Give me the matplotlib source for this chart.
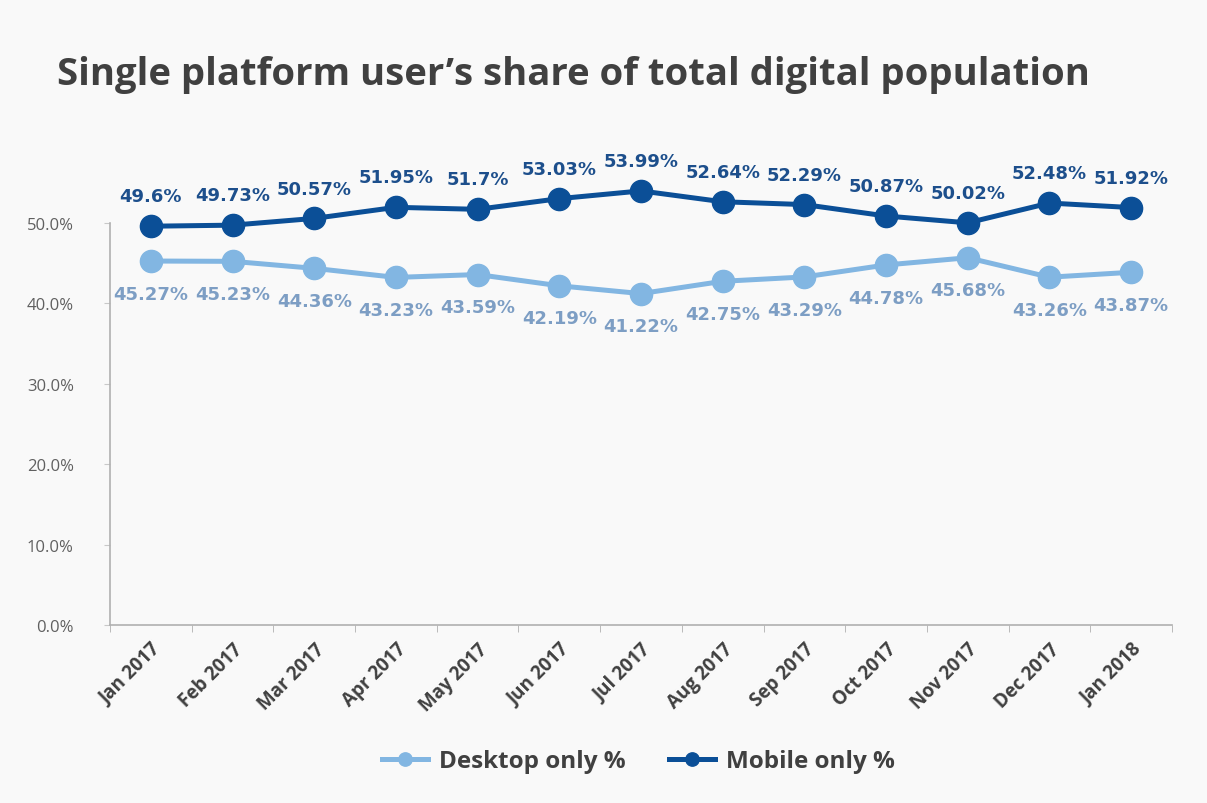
import numpy as np
import matplotlib.pyplot as plt
from matplotlib.ticker import MultipleLocator, FuncFormatter

MONTHS = ['Jan 2017', 'Feb 2017', 'Mar 2017', 'Apr 2017', 'May 2017', 'Jun 2017',
          'Jul 2017', 'Aug 2017', 'Sep 2017', 'Oct 2017', 'Nov 2017', 'Dec 2017', 'Jan 2018']
DESKTOP_ONLY = [45.27, 45.23, 44.36, 43.23, 43.59, 42.19, 41.22, 42.75, 43.29, 44.78, 45.68, 43.26, 43.87]
MOBILE_ONLY = [49.6, 49.73, 50.57, 51.95, 51.7, 53.03, 53.99, 52.64, 52.29, 50.87, 50.02, 52.48, 51.92]
MOBILE_TEXT = ['49.6%', '49.73%', '50.57%', '51.95%', '51.7%', '53.03%', '53.99%',
               '52.64%', '52.29%', '50.87%', '50.02%', '52.48%', '51.92%']

BG = '#f9f9f9'
DARK_BLUE = '#0b4f97'
LIGHT_BLUE = '#82b6e2'
TEXT_GRAY = '#404040'

plt.rcParams['font.family'] = ['Open Sans', 'DejaVu Sans']

fig = plt.figure(figsize=(12.07, 8.04), dpi=100, facecolor=BG)
ax = fig.add_axes([0.0911, 0.2214, 0.8799, 0.50])
ax.set_facecolor(BG)

x = np.arange(len(MONTHS))
ax.plot(x, DESKTOP_ONLY, '-o', color=LIGHT_BLUE, lw=3.6, ms=16, clip_on=False,
        zorder=3, label='Desktop only %')
ax.plot(x, MOBILE_ONLY, '-o', color=DARK_BLUE, lw=3.6, ms=16, clip_on=False,
        zorder=4, label='Mobile only %')

# value labels: mobile above the points, desktop below
for xi, v, t in zip(x, MOBILE_ONLY, MOBILE_TEXT):
    ax.annotate(t, (xi, v), xytext=(0, 15), textcoords='offset points', ha='center',
                va='bottom', fontsize=13, fontweight='bold', color='#1d4f8c',
                family='DejaVu Sans', annotation_clip=False)
for xi, v in zip(x, DESKTOP_ONLY):
    ax.annotate(f'{v:.2f}%', (xi, v), xytext=(0, -17), textcoords='offset points', ha='center',
                va='top', fontsize=13, fontweight='bold', color='#7d9ec4',
                family='DejaVu Sans', annotation_clip=False)

ax.set_xlim(-0.5, len(MONTHS) - 0.5)
ax.set_ylim(0, 50)
ax.yaxis.set_major_locator(MultipleLocator(10))
ax.yaxis.set_major_formatter(FuncFormatter(lambda v, p: f'{v:.1f}%'))
ax.set_xticks(x)
ax.set_xticklabels(MONTHS, rotation=45, ha='right', rotation_mode='anchor',
                   fontsize=13.5, fontweight='bold', color=TEXT_GRAY)
ax.set_xticks(np.arange(-0.5, len(MONTHS)), minor=True)
ax.tick_params(axis='x', which='major', length=0, pad=10)
ax.tick_params(axis='x', which='minor', length=5, color='#b0b0b0')
ax.tick_params(axis='y', length=4, color='#c8c8c8', labelsize=12, labelcolor='#606060', pad=22)

for s in ['top', 'right']:
    ax.spines[s].set_visible(False)
for s in ['left', 'bottom']:
    ax.spines[s].set_color('#b0b0b0')
    ax.spines[s].set_linewidth(1.2)

fig.text(0.047, 0.907, 'Single platform user\u2019s share of total digital population',
         fontsize=27.5, fontweight='bold', color=TEXT_GRAY, va='center', ha='left')

leg = fig.legend(loc='center', bbox_to_anchor=(0.529, 0.052), ncol=2, frameon=False,
                 fontsize=17.5, handlelength=1.9, handletextpad=0.45, columnspacing=1.8,
                 markerscale=0.6)
for t in leg.get_texts():
    t.set_color(TEXT_GRAY)
    t.set_fontweight('bold')

fig.savefig('out.png', dpi=100, facecolor=BG)
